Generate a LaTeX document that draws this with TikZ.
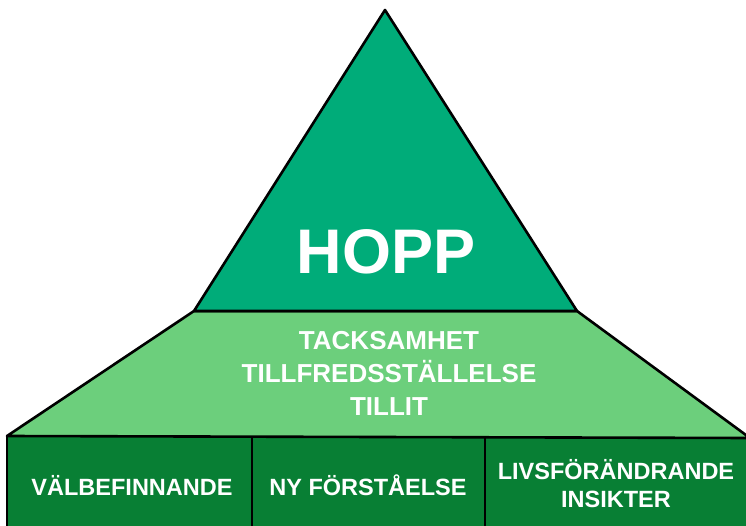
\documentclass[tikz,border=0pt]{standalone}
\usepackage{fontspec}
\setmainfont{Liberation Sans}
\definecolor{topgreen}{RGB}{0,172,121}
\definecolor{midgreen}{RGB}{108,207,124}
\definecolor{lowgreen}{RGB}{8,127,52}
\tikzset{
  edge/.style={draw=black,line width=2.6pt,line join=round},
  label/.style={text=white,font=\bfseries,align=center,inner sep=0pt}
}
\begin{document}
\begin{tikzpicture}[x=1pt,y=-1pt]
  \useasboundingbox (0,0) rectangle (746,526);
  % bottom row
  \fill[lowgreen] (7,436) rectangle (760,540);
  \draw[edge] (7,540) -- (7,436) -- (760,436);
  \draw[edge] (252,436) -- (252,540);
  \draw[edge] (485,436) -- (485,540);
  % middle band
  \filldraw[edge,fill=midgreen] (194,311) -- (577,311) -- (750,438) -- (7,436) -- cycle;
  % top
  \filldraw[edge,fill=topgreen] (385,10) -- (577,311) -- (194,311) -- cycle;
  \node[label,font=\bfseries\fontsize{63}{63}\selectfont] (hopp) at (386,252) {HOPP};
  \node[label,font=\bfseries\fontsize{26}{33}\selectfont] (values) at (389,373) {TACKSAMHET\\TILLFREDSSTÄLLELSE\\TILLIT};
  \node[label,font=\bfseries\fontsize{23.5}{28}\selectfont] (wellbeing) at (132,485) {VÄLBEFINNANDE};
  \node[label,font=\bfseries\fontsize{23.5}{28}\selectfont] (insight) at (368,485) {NY FÖRSTÅELSE};
  \node[label,font=\bfseries\fontsize{23.5}{28}\selectfont] (change) at (616,484) {LIVSFÖRÄNDRANDE\\INSIKTER};
\end{tikzpicture}
\end{document}
